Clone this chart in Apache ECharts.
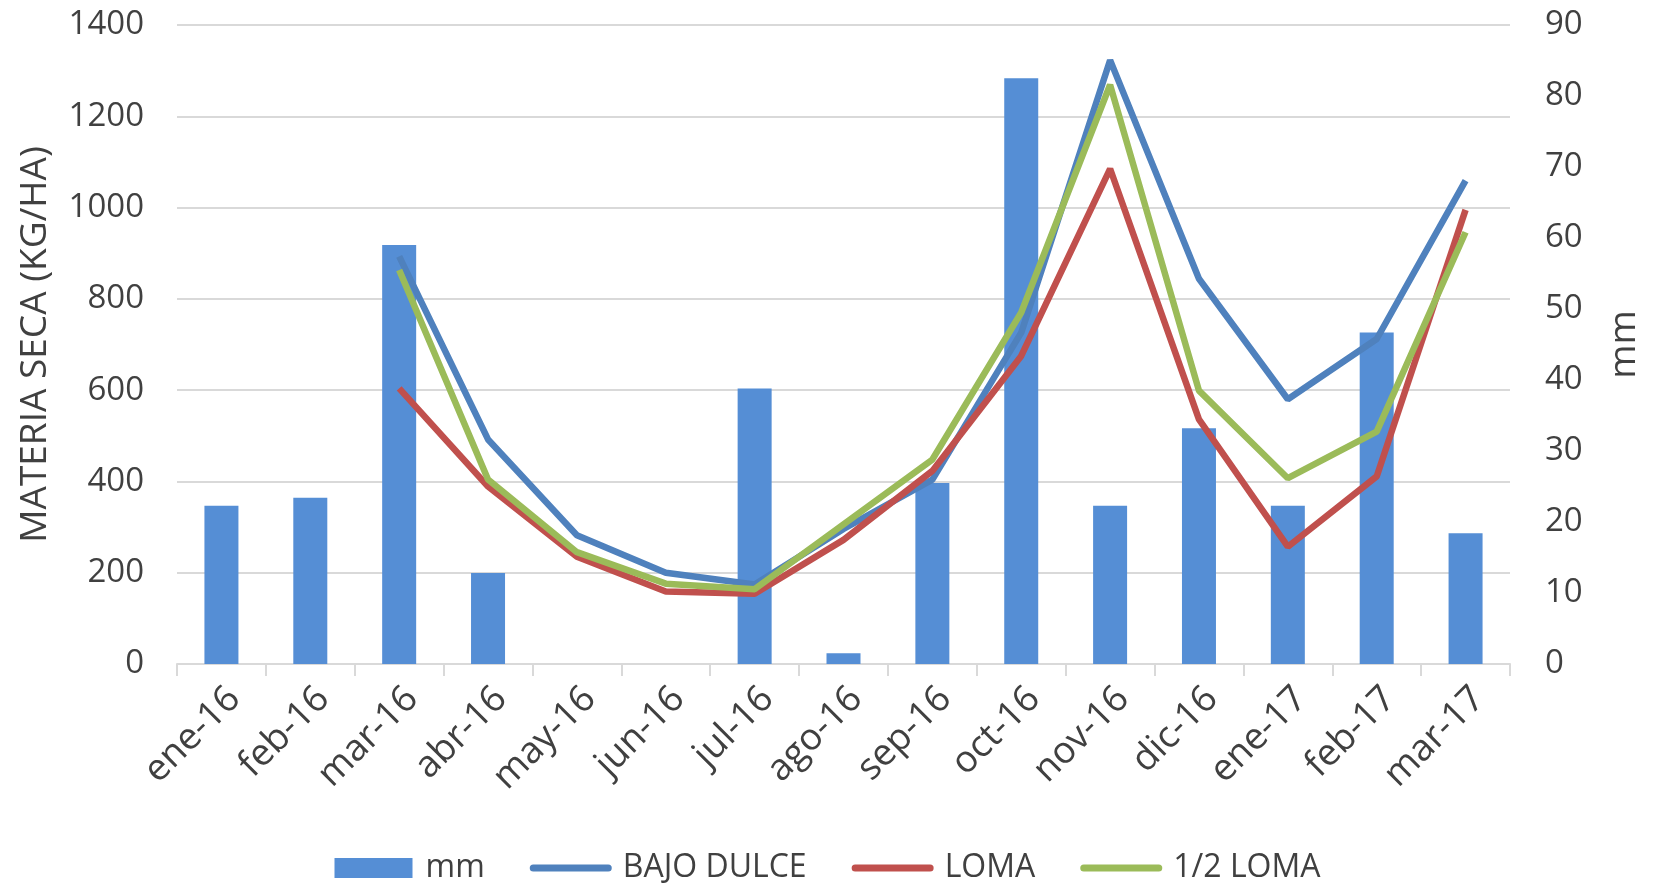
<!DOCTYPE html>
<html>
<head>
<meta charset="utf-8">
<script src="https://cdn.jsdelivr.net/npm/echarts@6/dist/echarts.min.js"></script>
<style>
  html, body { margin: 0; padding: 0; background: #fff; }
  #chart { width: 1653px; height: 883px; }
</style>
</head>
<body>
<div id="chart"></div>
<script>
// meses
const months = ["ene-16", "feb-16", "mar-16", "abr-16", "may-16", "jun-16", "jul-16", "ago-16",
  "sep-16", "oct-16", "nov-16", "dic-16", "ene-17", "feb-17", "mar-17"];
// lluvia (mm), eje derecho
const mm = [22.3, 23.4, 59, 12.8, 0, 0, 38.8, 1.5, 25.5, 82.5, 22.3, 33.2, 22.3, 46.7, 18.4];
// materia seca kg/ha
const bajoDulce = [null, null, 893, 492, 282, 200, 174, 296, 404, 726, 1323, 844, 580, 712, 1059];
const loma = [null, null, 604, 389, 235, 159, 154, 272, 423, 675, 1085, 536, 257, 411, 995];
const mediaLoma = [null, null, 863, 404, 245, 176, 164, 306, 448, 770, 1269, 599, 407, 509, 946];

const txt = "#404040";
const font = "Open Sans";

// iconos de la leyenda (caja 82x20, la linea ocupa solo la franja central)
const barIcon = "path://M2,0 L80,0 L80,20 L2,20 Z M0,0 M82,20";
const lineIcon = "path://M0,0 M82,20 M3.5,6.5 L78.5,6.5 A3.5,3.5 0 0 1 78.5,13.5 L3.5,13.5 A3.5,3.5 0 0 1 3.5,6.5 Z";

const chart = echarts.init(document.getElementById("chart"));

function lineSerie(name, data, color) {
  return {
    name: name,
    type: "line",
    yAxisIndex: 0,
    data: data,
    symbol: "none",
    lineStyle: { width: 6.5, color: color },
    itemStyle: { color: color }
  };
}

const option = {
  animation: false,
  textStyle: { fontFamily: font, color: txt },
  grid: { left: 177, right: 143, top: 25, bottom: 219 },
  legend: {
    top: 847,
    left: "center",
    itemWidth: 82,
    itemHeight: 20,
    itemGap: 45,
    itemStyle: { borderWidth: 0 },
    textStyle: { fontSize: 32, color: txt, fontFamily: font, padding: [0, 0, 0, 6] },
    data: [
      { name: "mm", icon: barIcon },
      { name: "BAJO DULCE", icon: lineIcon },
      { name: "LOMA", icon: lineIcon },
      { name: "1/2 LOMA", icon: lineIcon }
    ]
  },
  xAxis: {
    type: "category",
    data: months,
    axisLine: { lineStyle: { color: "#d9d9d9", width: 2 } },
    axisTick: { show: true, length: 12, lineStyle: { color: "#d9d9d9", width: 2 } },
    axisLabel: {
      rotate: 45, fontSize: 37, color: txt, margin: 16, interval: 0,
      verticalAlign: "top"
    }
  },
  yAxis: [
    {
      type: "value",
      min: 0, max: 1400, interval: 200,
      name: "MATERIA SECA (KG/HA)",
      nameLocation: "middle",
      nameRotate: 90,
      nameGap: 123,
      nameTextStyle: { fontSize: 37, color: txt },
      axisLine: { show: false },
      axisTick: { show: false },
      axisLabel: { fontSize: 33, color: txt, margin: 33, formatter: v => String(v) },
      splitLine: { lineStyle: { color: "#d9d9d9", width: 2 } }
    },
    {
      type: "value",
      min: 0, max: 90, interval: 10,
      name: "mm",
      nameLocation: "middle",
      nameRotate: 90,
      nameGap: 96,
      nameTextStyle: { fontSize: 37, color: txt },
      axisLine: { show: false },
      axisTick: { show: false },
      axisLabel: { fontSize: 33, color: txt, margin: 35 },
      splitLine: { show: false }
    }
  ],
  series: [
    {
      name: "mm",
      type: "bar",
      yAxisIndex: 1,
      data: mm,
      barWidth: 34,
      itemStyle: { color: "#558ED5" }
    },
    lineSerie("BAJO DULCE", bajoDulce, "#4F81BD"),
    lineSerie("LOMA", loma, "#C0504D"),
    lineSerie("1/2 LOMA", mediaLoma, "#9BBB59")
  ]
};

chart.setOption(option);
</script>
</body>
</html>
